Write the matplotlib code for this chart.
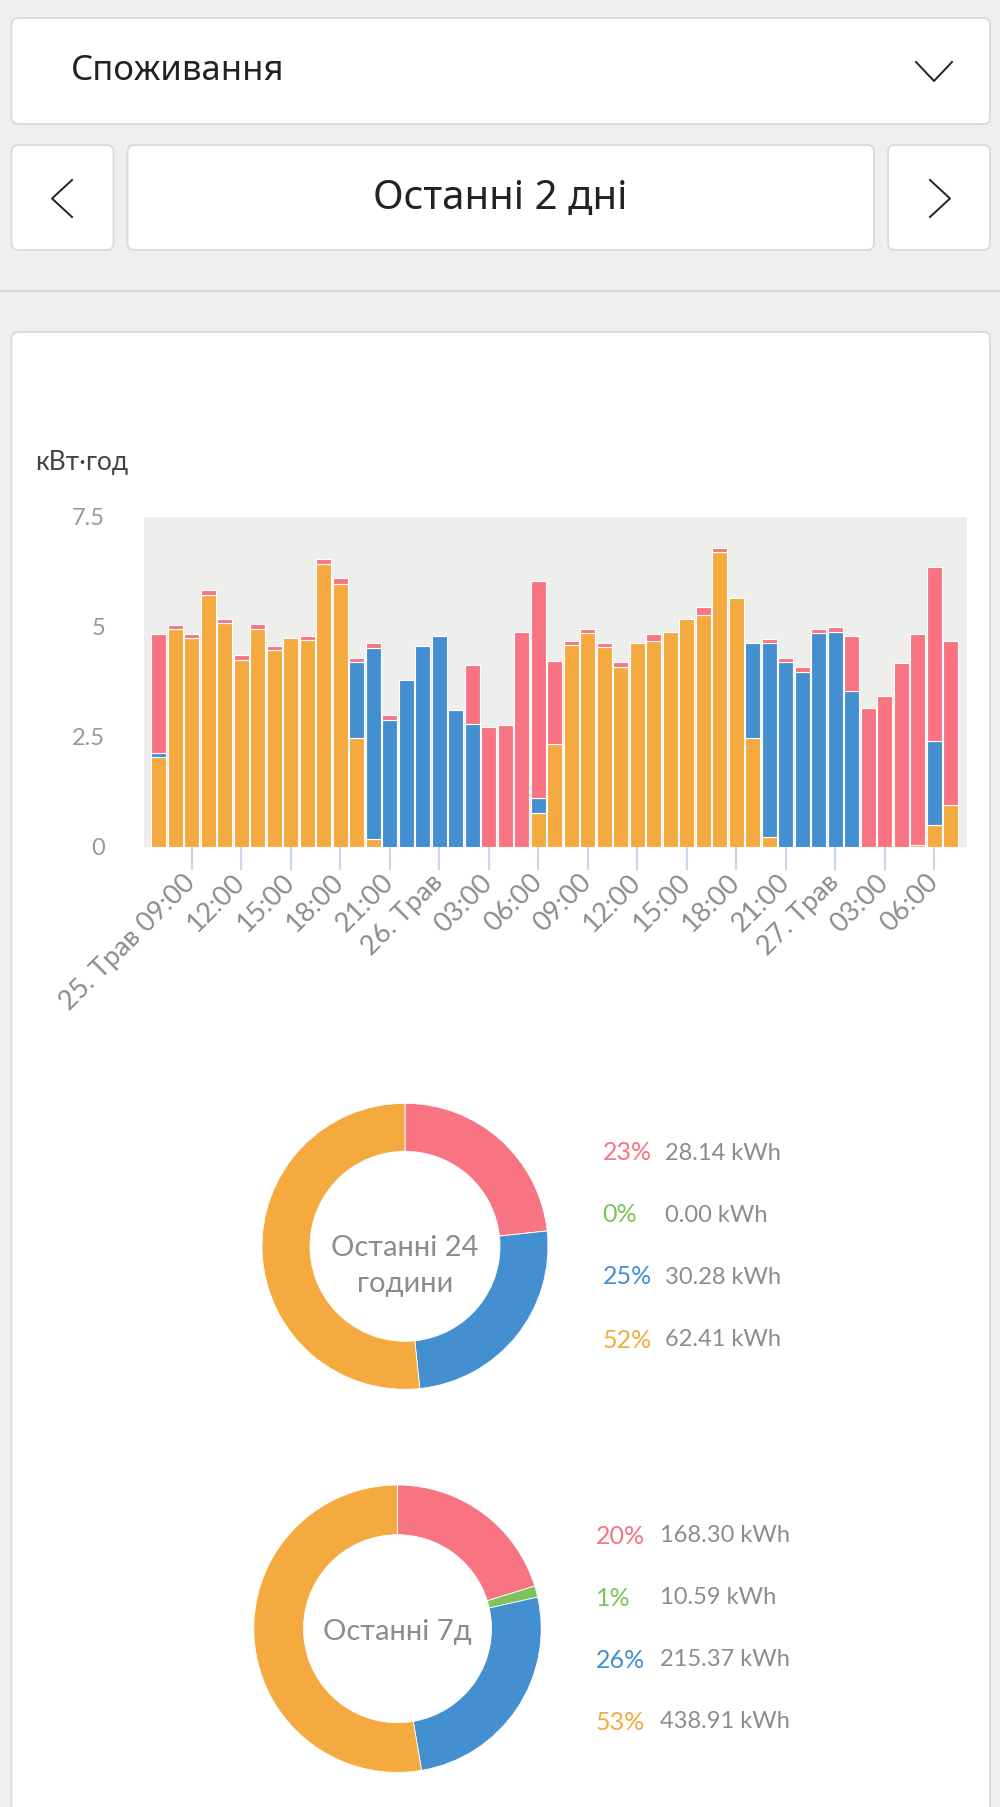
import matplotlib
matplotlib.use("Agg")
import matplotlib.pyplot as plt
import numpy as np
from matplotlib.patches import FancyBboxPatch

W, H = 1000, 1807
PT = 0.72  # points per pixel at dpi 100

RED = "#F87482"
ORANGE = "#F4AA3F"
BLUE = "#448FD0"
GREEN = "#7DC35B"
PAGE_BG = "#EFEFEF"
PLOT_BG = "#EEEEED"
GREY = "#8C8C8C"
BORDER = "#DADADA"
CHART_FONT = ["Lato", "Open Sans", "DejaVu Sans"]
UI_FONT = ["Noto Sans", "DejaVu Sans"]

# hourly consumption (kWh), 25 May 07:00 .. 27 May 07:00, stacked bottom -> top
orange = [2.05, 4.95, 4.75, 5.72, 5.08, 4.25, 4.95, 4.47, 4.74, 4.69, 6.42, 5.98, 2.46,
          0.17, 0, 0, 0, 0, 0, 0, 0, 0, 0, 0.77, 2.34, 4.58, 4.85, 4.53, 4.09, 4.62,
          4.68, 4.89, 5.17, 5.27, 6.70, 5.65, 2.46, 0.23, 0, 0, 0, 0, 0, 0, 0, 0,
          0.05, 0.49, 0.94]
blue = [0.08, 0, 0, 0, 0, 0, 0, 0, 0, 0, 0, 0, 1.73,
        4.35, 2.89, 3.80, 4.57, 4.79, 3.10, 2.78, 0, 0, 0, 0.33, 0, 0, 0, 0, 0, 0,
        0, 0, 0, 0, 0, 0, 2.16, 4.39, 4.19, 3.98, 4.85, 4.89, 3.54, 0, 0, 0,
        0, 1.91, 0]
red = [2.70, 0.10, 0.09, 0.11, 0.09, 0.11, 0.11, 0.10, 0, 0.10, 0.11, 0.12, 0.11,
       0.10, 0.10, 0, 0, 0, 0, 1.36, 2.72, 2.77, 4.89, 4.94, 1.89, 0.09, 0.10, 0.09, 0.10, 0,
       0.15, 0, 0, 0.17, 0.10, 0, 0, 0.11, 0.11, 0.10, 0.10, 0.11, 1.25, 3.15, 3.42, 4.18,
       4.78, 3.96, 3.73]

tick_hours = [2, 5, 8, 11, 14, 17, 20, 23, 26, 29, 32, 35, 38, 41, 44, 47]
tick_labels = ["25. Трав 09:00", "12:00", "15:00", "18:00", "21:00", "26. Трав",
               "03:00", "06:00", "09:00", "12:00", "15:00", "18:00", "21:00",
               "27. Трав", "03:00", "06:00"]
y_ticks = [0, 2.5, 5, 7.5]
y_tick_labels = ["0", "2.5", "5", "7.5"]

# donut summaries: red, green, blue, orange
slice_colors = [RED, GREEN, BLUE, ORANGE]
day_kwh = [28.14, 0.00, 30.28, 62.41]
week_kwh = [168.30, 10.59, 215.37, 438.91]


def fig_rect(x0, y0, x1, y1):
    """Pixel box (top-left origin) -> figure fraction rect."""
    return [x0 / W, 1 - y1 / H, (x1 - x0) / W, (y1 - y0) / H]


fig = plt.figure(figsize=(W / 100, H / 100), dpi=100, facecolor=PAGE_BG)

# page chrome drawn in pixel coordinates
bg = fig.add_axes([0, 0, 1, 1])
bg.set_xlim(0, W)
bg.set_ylim(H, 0)
bg.axis("off")


def box(x0, y0, x1, y1):
    bg.add_patch(FancyBboxPatch((x0, y0), x1 - x0, y1 - y0,
                                boxstyle="round,pad=0,rounding_size=7",
                                fc="white", ec=BORDER, lw=1.3))


box(11.5, 18, 990, 124)
box(11.5, 145, 113.5, 250)
box(127.5, 145, 874, 250)
box(888, 145, 990, 250)
bg.plot([0, W], [291, 291], color="#D6D6D6", lw=1.5)
box(11.5, 332, 990, H + 20)

bg.text(71, 71, "Споживання", fontsize=25, color="#222222", family=UI_FONT,
        ha="left", va="center")
bg.text(500.5, 199, "Останні 2 дні", fontsize=29, color="#222222", family=UI_FONT,
        ha="center", va="center")
bg.plot([916, 934, 952], [62, 81, 62], color="#222222", lw=1.4)
bg.plot([72, 52, 72], [180, 198.5, 217], color="#222222", lw=1.4)
bg.plot([930, 950, 930], [180, 198.5, 217], color="#222222", lw=1.4)

bg.text(35, 462, "кВт·год", fontsize=19, color="#444444", family=CHART_FONT,
        ha="left", va="center")

# stacked hourly bars
ax = fig.add_axes(fig_rect(144, 516.7, 967, 846.7))
ax.set_facecolor(PLOT_BG)
x = np.arange(len(orange))
o = np.array(orange)
b = np.array(blue)
r = np.array(red)
for vals, base, col in [(o, np.zeros_like(o), ORANGE), (b, o, BLUE), (r, o + b, RED)]:
    keep = vals > 0
    ax.bar(x[keep], vals[keep], bottom=base[keep], width=0.92, color=col,
           edgecolor="white", linewidth=0.8)
ax.set_xlim(-0.89, 48.99)
ax.set_ylim(0, 7.5)
for s in ax.spines.values():
    s.set_visible(False)
ax.set_yticks(y_ticks, y_tick_labels, fontsize=17, color="#999999", family=CHART_FONT)
ax.tick_params(axis="y", length=0, pad=39 * PT)
ax.set_xticks(tick_hours, tick_labels, rotation=45, ha="right", va="center",
              rotation_mode="anchor", fontsize=19.5, color=GREY, family=CHART_FONT)
ax.tick_params(axis="x", length=23 * PT, width=1.5, color="#CCD6EB", pad=9 * PT)


def donut(vals, cx, cy, radius, inner, center_lines, pct_x, val_x, row_ys):
    dax = fig.add_axes(fig_rect(cx - radius, cy - radius, cx + radius, cy + radius))
    dax.pie(vals, colors=slice_colors, startangle=90, counterclock=False, radius=1,
            wedgeprops=dict(width=(radius - inner) / radius, edgecolor="white",
                            linewidth=0.6))
    dax.set_xlim(-1, 1)
    dax.set_ylim(-1, 1)
    dax.axis("off")
    for text, ty in center_lines:
        bg.text(cx, ty, text, fontsize=21, color=GREY, family=CHART_FONT,
                ha="center", va="center")
    total = sum(vals)
    for v, col, ry in zip(vals, slice_colors, row_ys):
        bg.text(pct_x, ry, f"{round(v / total * 100)}%", fontsize=18, color=col,
                family=CHART_FONT, ha="left", va="center")
        bg.text(val_x, ry, f"{v:.2f} kWh", fontsize=17, color=GREY,
                family=CHART_FONT, ha="left", va="center")


donut(day_kwh, 405, 1246.3, 143, 95, [("Останні 24", 1248), ("години", 1284)],
      602.5, 665, [1153, 1215, 1277, 1340])
donut(week_kwh, 397.5, 1628.7, 143.7, 94, [("Останні 7д", 1631.7)],
      596, 659.6, [1536, 1598, 1660, 1722])

fig.savefig("out.png", dpi=100, facecolor=PAGE_BG)
